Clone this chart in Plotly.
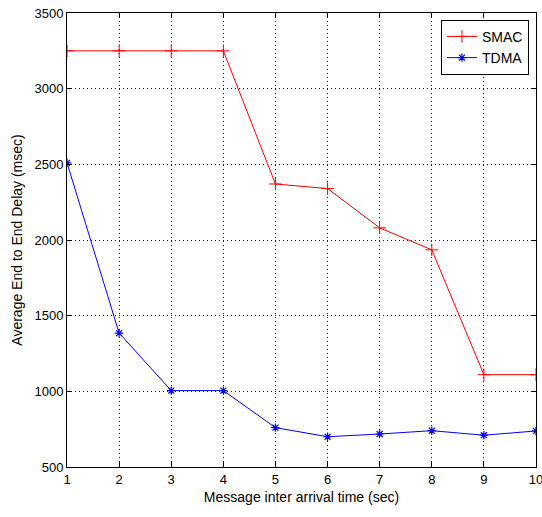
import plotly.graph_objects as go

x_vals = [1, 2, 3, 4, 5, 6, 7, 8, 9, 10]
smac = [3250, 3250, 3250, 3250, 2370, 2340, 2080, 1935, 1110, 1110]
tdma = [2510, 1385, 1005, 1005, 760, 700, 718, 740, 710, 738]
y_ticks = [500, 1000, 1500, 2000, 2500, 3000, 3500]

fig = go.Figure()
fig.add_trace(go.Scatter(
    x=x_vals, y=smac, name="SMAC", mode="lines+markers",
    line=dict(color="#ff0000", width=1),
    marker=dict(symbol="cross-thin", size=9, line=dict(color="#ff0000", width=1)),
))
fig.add_trace(go.Scatter(
    x=x_vals, y=tdma, name="TDMA", mode="lines+markers",
    line=dict(color="#0000ff", width=1),
    marker=dict(symbol="asterisk", size=7, line=dict(color="#0000ff", width=1.2)),
))

axis_common = dict(
    showline=True, linecolor="black", linewidth=1, mirror="ticks",
    ticks="inside", ticklen=5, tickcolor="black",
    showgrid=True, gridcolor="#222222", griddash="1px,3px", gridwidth=1,
    zeroline=False, ticklabeloverflow="allow", automargin=False,
    tickfont=dict(family="Liberation Sans, Arial", size=13, color="black"),
)

fig.update_layout(
    width=542, height=517,
    margin=dict(l=67, r=6, t=13, b=50),
    paper_bgcolor="white", plot_bgcolor="white",
    showlegend=True,
    legend=dict(
        x=0.985, y=0.985, xanchor="right", yanchor="top",
        bordercolor="black", borderwidth=1, bgcolor="white",
        font=dict(family="Liberation Sans, Arial", size=14, color="black"),
    ),
    xaxis=dict(
        range=[1, 10], tickvals=x_vals,
        title=dict(text="Message inter arrival time (sec)", standoff=6,
                   font=dict(family="Liberation Sans, Arial", size=14, color="black")),
        **axis_common,
    ),
    yaxis=dict(
        range=[500, 3500], tickvals=y_ticks,
        title=dict(text="Average End to End Delay (msec)", standoff=8,
                   font=dict(family="Liberation Sans, Arial", size=14, color="black")),
        **axis_common,
    ),
)

fig.write_html("out.html")
